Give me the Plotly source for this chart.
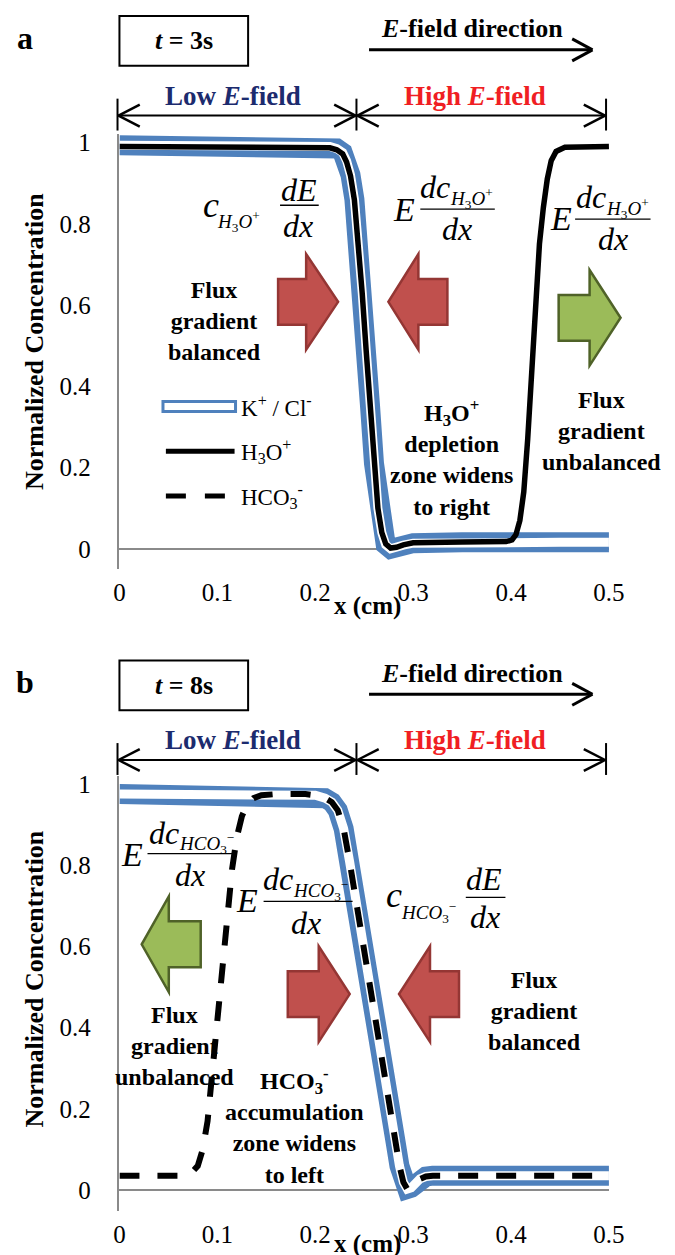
import plotly.graph_objects as go

W, H = 675, 1255

# ---------------- data ----------------
# panel a (t = 3 s)
x_ions_a = [0, 0.1, 0.2, 0.215, 0.222, 0.228, 0.232, 0.236, 0.240, 0.244, 0.248, 0.252, 0.256,
            0.260, 0.264, 0.268, 0.272, 0.277, 0.283, 0.290, 0.300, 0.350, 0.400, 0.450, 0.500]
kcl_a = [0.993, 0.993, 0.993, 0.99, 0.985, 0.975, 0.955, 0.92, 0.86, 0.76, 0.63, 0.49, 0.35,
         0.21, 0.10, 0.04, 0.01, 0.0, 0.002, 0.009, 0.014, 0.016, 0.016, 0.016, 0.016]
x_h3o_a = [0, 0.1, 0.2, 0.215, 0.222, 0.228, 0.232, 0.236, 0.240, 0.244, 0.248, 0.252, 0.256,
           0.260, 0.264, 0.268, 0.272, 0.277, 0.283, 0.290, 0.300, 0.350, 0.395, 0.401, 0.405,
           0.409, 0.413, 0.417, 0.421, 0.425, 0.429, 0.433, 0.437, 0.441, 0.446, 0.455, 0.500]
h3o_a = [0.99, 0.99, 0.99, 0.987, 0.982, 0.972, 0.952, 0.918, 0.858, 0.758, 0.628, 0.488, 0.348,
         0.208, 0.10, 0.04, 0.012, 0.002, 0.004, 0.010, 0.015, 0.017, 0.018, 0.022, 0.035,
         0.07, 0.14, 0.27, 0.45, 0.62, 0.75, 0.84, 0.91, 0.955, 0.978, 0.988, 0.99]

# panel b (t = 8 s)
x_ions_b = [0, 0.1, 0.19, 0.20, 0.21, 0.217, 0.223, 0.229, 0.235, 0.241, 0.247, 0.253, 0.259,
            0.265, 0.271, 0.277, 0.282, 0.286, 0.290, 0.294, 0.298, 0.302, 0.307, 0.313, 0.320, 0.500]
kcl_b = [0.975, 0.975, 0.975, 0.972, 0.965, 0.955, 0.935, 0.89, 0.81, 0.72, 0.635, 0.55, 0.465,
         0.38, 0.29, 0.20, 0.12, 0.06, 0.02, 0.003, 0.006, 0.018, 0.028, 0.034, 0.036, 0.036]
x_hco3_b = [0, 0.062, 0.07, 0.075, 0.08, 0.085, 0.09, 0.095, 0.10, 0.105, 0.11, 0.115, 0.12,
            0.125, 0.13, 0.137, 0.145, 0.16, 0.19, 0.20, 0.21, 0.217, 0.223, 0.229, 0.235,
            0.241, 0.247, 0.253, 0.259, 0.265, 0.271, 0.277, 0.282, 0.286, 0.290, 0.294,
            0.298, 0.302, 0.307, 0.313, 0.320, 0.500]
hco3_b = [0.036, 0.036, 0.04, 0.047, 0.06, 0.10, 0.17, 0.30, 0.44, 0.57, 0.69, 0.79, 0.87,
          0.92, 0.948, 0.965, 0.972, 0.975, 0.975, 0.972, 0.965, 0.955, 0.935, 0.89, 0.81,
          0.72, 0.635, 0.55, 0.465, 0.38, 0.29, 0.20, 0.12, 0.06, 0.02, 0.003, 0.006, 0.018,
          0.028, 0.034, 0.036, 0.036]

x_tick_vals = [0, 0.1, 0.2, 0.3, 0.4, 0.5]
x_tick_text = ["0", "0.1", "0.2", "0.3", "0.4", "0.5"]
y_tick_vals = [0, 0.2, 0.4, 0.6, 0.8, 1.0]
y_tick_text = ["0", "0.2", "0.4", "0.6", "0.8", "1"]

# ---------------- styling ----------------
SERIF = "Liberation Serif, Times New Roman, serif"
BLUE = "#4F81BD"
AXGRAY = "#8A8A8A"
NAVY = "#1C2B6E"
RED_TXT = "#F01E23"
RED_FILL, RED_EDGE = "#C0504D", "#943634"
GRN_FILL, GRN_EDGE = "#9BBB59", "#4F6228"


def px(x):
    return x / W


def py(y):
    return 1 - y / H


fig = go.Figure()


def add_band(xs, ys, xa, ya):
    fig.add_trace(go.Scatter(x=xs, y=ys, mode="lines", line=dict(color=BLUE, width=20),
                             xaxis=xa, yaxis=ya, showlegend=False, hoverinfo="skip"))
    fig.add_trace(go.Scatter(x=xs, y=ys, mode="lines", line=dict(color="white", width=9),
                             xaxis=xa, yaxis=ya, showlegend=False, hoverinfo="skip"))


add_band(x_ions_a, kcl_a, "x", "y")
fig.add_trace(go.Scatter(x=x_h3o_a, y=h3o_a, mode="lines", line=dict(color="black", width=5.5),
                         xaxis="x", yaxis="y", showlegend=False, name="H3O+"))
add_band(x_ions_b, kcl_b, "x2", "y2")
fig.add_trace(go.Scatter(x=x_hco3_b, y=hco3_b, mode="lines",
                         line=dict(color="black", width=6, dash="20px,18px"),
                         xaxis="x2", yaxis="y2", showlegend=False, name="HCO3-"))

# axes geometry (pixels)
X0, X1 = 109, 615
Y0_A = 538          # y=0 in panel a
UNIT = 408          # px per unit
SHIFT = 644         # vertical offset of panel b
YMIN, YMAX = -0.05, 1.02


def ydom(zero_px):
    bottom = zero_px - YMIN * UNIT
    top = zero_px - YMAX * UNIT
    return [py(bottom), py(top)]


common_x = dict(range=[0, 0.5], showgrid=False, zeroline=False, showline=False,
                tickvals=x_tick_vals, ticktext=x_tick_text, ticks="outside", ticklen=1,
                tickcolor="rgba(0,0,0,0)", tickfont=dict(family=SERIF, size=25, color="black"),
                domain=[px(X0), px(X1)], fixedrange=True)
common_y = dict(range=[YMIN, YMAX], showgrid=False, zeroline=True, zerolinecolor=AXGRAY,
                zerolinewidth=1.5, showline=True, linecolor=AXGRAY, linewidth=1.5,
                tickvals=y_tick_vals, ticktext=y_tick_text, ticks="outside", ticklen=22,
                tickcolor="rgba(0,0,0,0)", tickfont=dict(family=SERIF, size=25, color="black"),
                fixedrange=True)

fig.update_layout(
    width=W, height=H, margin=dict(l=0, r=0, t=0, b=0),
    paper_bgcolor="white", plot_bgcolor="rgba(0,0,0,0)",
    xaxis=dict(common_x, anchor="y"),
    yaxis=dict(common_y, anchor="x", domain=ydom(Y0_A)),
    xaxis2=dict(common_x, anchor="y2"),
    yaxis2=dict(common_y, anchor="x2", domain=ydom(Y0_A + SHIFT)),
    showlegend=False,
)

annotations = []
shapes = []


def text(x, y, s, size, bold=False, color="black", xanchor="center", angle=0):
    if bold:
        s = "<b>" + s + "</b>"
    annotations.append(dict(x=px(x), y=py(y), xref="paper", yref="paper", text=s,
                            showarrow=False, xanchor=xanchor, yanchor="middle",
                            textangle=angle,
                            font=dict(family=SERIF, size=size, color=color)))


def line(x0, y0, x1, y1, width=2, color="black", dash=None):
    d = dict(type="line", xref="paper", yref="paper", x0=px(x0), y0=py(y0), x1=px(x1),
             y1=py(y1), line=dict(color=color, width=width))
    if dash:
        d["line"]["dash"] = dash
    shapes.append(d)


def chevron(tx, ty, direction, L=22, h=11, width=2.5):
    line(tx, ty, tx - direction * L, ty - h, width)
    line(tx, ty, tx - direction * L, ty + h, width)


def block_arrow(x_tail, x_tip, x_head, cy, fill, edge, sh=23, hh=48):
    pts = [(x_tail, cy - sh), (x_head, cy - sh), (x_head, cy - hh), (x_tip, cy),
           (x_head, cy + hh), (x_head, cy + sh), (x_tail, cy + sh)]
    path = "M " + " L ".join(f"{px(a):.5f},{py(b):.5f}" for a, b in pts) + " Z"
    shapes.append(dict(type="path", xref="paper", yref="paper", path=path,
                       fillcolor=fill, line=dict(color=edge, width=2.5)))


def fraction(lx0, lx1, ly, num, num_xy, den_xy, size=32):
    line(lx0, ly, lx1, ly, 1.3)
    text(num_xy[0], num_xy[1], num, size)
    text(den_xy[0], den_xy[1], "<i>dx</i>", size)


def header(dy, label, tlabel):
    text(11, 25 + dy, label, 32, bold=True)
    shapes.append(dict(type="rect", xref="paper", yref="paper", x0=px(109), x1=px(242),
                       y0=py(3 + dy), y1=py(53 + dy), line=dict(color="black", width=2)))
    text(176, 28 + dy, tlabel, 26, bold=True)
    text(473, 16 + dy, "<i>E</i>-field direction", 26, bold=True)
    line(367, 37 + dy, 597, 37 + dy, 3)
    chevron(598, 37 + dy, 1, L=21, h=11, width=3)
    text(226, 83 + dy, "Low <i>E</i>-field", 27, bold=True, color=NAVY)
    text(477, 83 + dy, "High <i>E</i>-field", 27, bold=True, color=RED_TXT)
    yb = 103 + dy
    line(107, yb, 354, yb, 2)
    line(354, yb, 612, yb, 2)
    for xb in (107, 354, 612):
        line(xb, 86 + dy, xb, 118 + dy, 2)
    chevron(108, yb, -1)
    chevron(353, yb, 1)
    chevron(355, yb, -1)
    chevron(611, yb, 1)


SUB_H3O = "<i>H</i><sub>3</sub><i>O</i><sup>+</sup>"
SUB_HCO3 = "<i>HCO</i><sub>3</sub><sup>−</sup>"

# ---------------- panel a ----------------
header(0, "a", "<i>t</i> = 3s")
text(21, 330, "Normalized Concentration", 26, bold=True, angle=-90)
text(365, 595, "x (cm)", 25, bold=True)

# c_H3O+ dE/dx
text(204, 193, "<i>c</i>", 36)
text(232, 209, SUB_H3O, 19)
fraction(275, 315, 193, "<i>dE</i>", (295, 178), (294, 214))
# E dc_H3O+/dx (middle)
text(403, 197, "<i>E</i>", 34)
fraction(420, 497, 197, "<i>dc</i>", (435, 175), (458, 217))
text(473, 186, SUB_H3O, 19)
# E dc_H3O+/dx (right)
text(565, 206, "<i>E</i>", 34)
fraction(580, 658, 207, "<i>dc</i>", (596, 185), (619, 227))
text(634, 196, SUB_H3O, 19)

block_arrow(273, 335, 302, 290, RED_FILL, RED_EDGE)
block_arrow(448, 387, 418, 290, RED_FILL, RED_EDGE)
block_arrow(563, 627, 595, 306, GRN_FILL, GRN_EDGE)

text(207, 309, "Flux<br>gradient<br>balanced", 24, bold=True)
text(452, 447, "H<sub>3</sub>O<sup>+</sup><br>depletion<br>zone widens<br>to right", 24, bold=True)
text(607, 420, "Flux<br>gradient<br>unbalanced", 24, bold=True)

# legend
shapes.append(dict(type="rect", xref="paper", yref="paper", x0=px(154), x1=px(229),
                   y0=py(390), y1=py(400), fillcolor="white", line=dict(color=BLUE, width=3)))
text(233, 395, "K<sup>+</sup> / Cl<sup>-</sup>", 23, xanchor="left")
line(157, 440, 228, 440, 5)
text(233, 440, "H<sub>3</sub>O<sup>+</sup>", 23, xanchor="left")
line(157, 485, 228, 485, 5, dash="20px,19px")
text(233, 485, "HCO<sub>3</sub><sup>-</sup>", 23, xanchor="left")

# ---------------- panel b ----------------
header(647, "b", "<i>t</i> = 8s")
text(21, 970, "Normalized Concentration", 26, bold=True, angle=-90)
text(365, 1236, "x (cm)", 25, bold=True)

# E dc_HCO3-/dx (left)
text(122, 845, "<i>E</i>", 34)
fraction(138, 227, 844, "<i>dc</i>", (155, 823), (182, 865))
text(199, 834, SUB_HCO3, 19)
# E dc_HCO3-/dx (middle)
text(241, 891, "<i>E</i>", 34)
fraction(258, 350, 892, "<i>dc</i>", (273, 869), (302, 914))
text(317, 881, SUB_HCO3, 19)
# c_HCO3- dE/dx
text(393, 886, "<i>c</i>", 36)
text(428, 903, SUB_HCO3, 19)
fraction(467, 508, 888, "<i>dE</i>", (486, 869), (487, 908))

block_arrow(193, 132, 160, 935, GRN_FILL, GRN_EDGE)
block_arrow(283, 347, 315, 985, RED_FILL, RED_EDGE)
block_arrow(460, 398, 430, 985, RED_FILL, RED_EDGE)

text(166, 1037, "Flux<br>gradient<br>unbalanced", 24, bold=True)
text(290, 1117, "HCO<sub>3</sub><sup>-</sup><br>accumulation<br>zone widens<br>to left", 24, bold=True)
text(538, 1002, "Flux<br>gradient<br>balanced", 24, bold=True)

fig.update_layout(annotations=annotations, shapes=shapes)
fig.write_html("out.html")
